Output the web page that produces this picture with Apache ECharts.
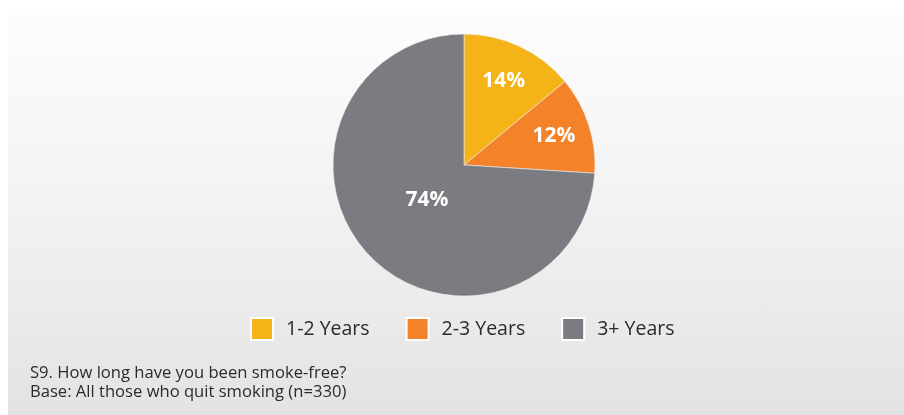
<!DOCTYPE html>
<html>
<head>
<meta charset="utf-8">
<script src="https://cdn.jsdelivr.net/npm/echarts@6/dist/echarts.min.js"></script>
<style>
  html, body { margin: 0; padding: 0; background: #fff; }
  #panel {
    position: absolute; left: 8px; top: 10px; width: 896px; height: 405px;
    background: linear-gradient(to bottom, #fdfdfd 0%, #f3f3f3 45%, #e3e3e3 100%);
  }
  #chart { position: absolute; left: 0; top: 0; width: 904px; height: 415px; }
</style>
</head>
<body>
<div id="panel"></div>
<div id="chart"></div>
<script>
// data
const categories = ['1-2 Years', '2-3 Years', '3+ Years'];
const shares = [14, 12, 74];
const notes = ['S9. How long have you been smoke-free?', 'Base: All those who quit smoking (n=330)'];

// looks
const colors = ['#F4B317', '#F48229', '#7A7C81'];
const labelRadius = [0.68, 0.69, 0.37]; // fraction of pie radius where each % sits
const pieCenter = [464, 165];
const pieR = 131;

const chart = echarts.init(document.getElementById('chart'));

chart.setOption({
    color: colors,
    backgroundColor: 'transparent',
    textStyle: { fontFamily: 'Open Sans' },
    title: {
        text: notes.join('\n'),
        left: 30,
        top: 364,
        padding: 0,
        textStyle: { fontSize: 16.6, fontWeight: 'normal', color: '#2b2b2b', lineHeight: 19, fontFamily: 'Open Sans' }
    },
    legend: {
        data: categories,
        left: 250,
        top: 317,
        padding: 0,
        itemWidth: 22,
        itemHeight: 22,
        itemGap: 36,
        icon: 'rect',
        itemStyle: { borderColor: '#fff', borderWidth: 2 },
        textStyle: { fontSize: 19.5, color: '#2b2b2b', padding: [0, 0, 0, 8], fontFamily: 'Open Sans' }
    },
    series: [{
        type: 'pie',
        center: pieCenter,
        radius: [0, pieR],
        startAngle: 90,
        clockwise: true,
        silent: true,
        itemStyle: { borderColor: '#eeeeee', borderWidth: 0.6 },
        label: {
            show: true,
            position: 'inside',
            formatter: '{c}%',
            color: '#fff',
            fontSize: 21,
            fontWeight: 'bold',
            fontFamily: 'Open Sans'
        },
        labelLayout: function (params) {
            const r = params.labelRect;
            const lx = r.x + r.width / 2;
            const ly = r.y + r.height / 2;
            const f = labelRadius[params.dataIndex] / 0.5 - 1;
            return { dx: (lx - pieCenter[0]) * f, dy: (ly - pieCenter[1]) * f };
        },
        labelLine: { show: false },
        data: categories.map((name, i) => ({ name: name, value: shares[i] }))
    }]
});
</script>
</body>
</html>
